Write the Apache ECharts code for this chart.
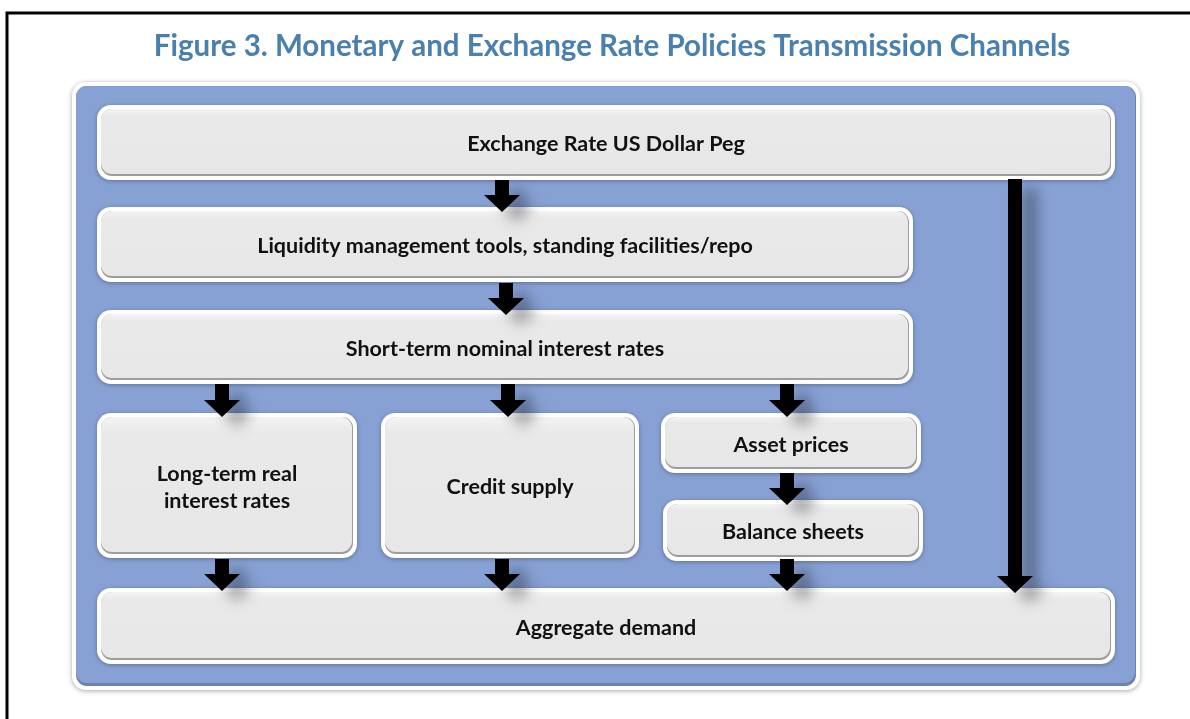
<!DOCTYPE html>
<html>
<head>
<meta charset="utf-8">
<script src="https://cdn.jsdelivr.net/npm/echarts@6/dist/echarts.min.js"></script>
<style>
    html, body { margin: 0; padding: 0; background: #fff; }
    #chart { width: 1190px; height: 719px; }
</style>
</head>
<body>
<div id="chart"></div>
<script>
    // boxes of the diagram: [x1, y1, x2, y2] in page pixels + label
    var boxes = [
        { pos: [97, 105, 1115, 180], label: 'Exchange Rate US Dollar Peg' },
        { pos: [97, 207, 913, 282], label: 'Liquidity management tools, standing facilities/repo' },
        { pos: [97, 310, 913, 384], label: 'Short-term nominal interest rates' },
        { pos: [97, 413, 357, 558], label: 'Long-term real\ninterest rates' },
        { pos: [381, 413, 639, 558], label: 'Credit supply' },
        { pos: [661, 413, 921, 473], label: 'Asset prices' },
        { pos: [663, 500, 923, 561], label: 'Balance sheets' },
        { pos: [97, 588, 1115, 664], label: 'Aggregate demand' }
    ];
    // arrows: [center x, top y, tip y]
    var arrows = [
        [502, 180, 212],
        [506, 283, 315],
        [222, 384, 417], [508, 384, 417], [787, 384, 417],
        [787, 473, 505],
        [222, 559, 591], [502, 559, 591], [787, 559, 591],
        [1015, 179, 593]
    ];
    var panel = [[72, 82, 1140, 690]];
    var frame = [[7, 13, 1190, 719]];

    var myChart = echarts.init(document.getElementById('chart'));
    var font = 'Lato, "Open Sans", sans-serif';

    function rectOf(api) {
        var p1 = api.coord([api.value(0), api.value(1)]);
        var p2 = api.coord([api.value(2), api.value(3)]);
        return { x: p1[0], y: p1[1], w: p2[0] - p1[0], h: p2[1] - p1[1] };
    }

    myChart.setOption({
        animation: false,
        title: {
            text: 'Figure 3. Monetary and Exchange Rate Policies Transmission Channels',
            left: 607,
            top: 26,
            textAlign: 'center',
            textStyle: { color: '#4a80b0', fontSize: 29.5, fontWeight: 'bold', fontFamily: font }
        },
        grid: { left: 0, right: 0, top: 0, bottom: 0 },
        xAxis: { type: 'value', min: 0, max: 1190, show: false },
        yAxis: { type: 'value', min: 0, max: 719, inverse: true, show: false },
        series: [
            {
                // black frame (top and left only)
                type: 'custom',
                clip: false,
                data: frame,
                renderItem: function (params, api) {
                    var r = rectOf(api);
                    return {
                        type: 'polyline',
                        shape: { points: [[r.x + r.w, r.y], [r.x, r.y], [r.x, r.y + r.h]] },
                        style: { stroke: '#000', lineWidth: 3, fill: null }
                    };
                }
            },
            {
                // blue background panel
                type: 'custom',
                clip: false,
                data: panel,
                renderItem: function (params, api) {
                    var r = rectOf(api);
                    return {
                        type: 'group',
                        children: [
                            {
                                type: 'rect',
                                shape: { x: r.x, y: r.y, width: r.w, height: r.h, r: 14 },
                                style: { fill: '#fff', shadowBlur: 5, shadowColor: 'rgba(0,0,0,0.35)', shadowOffsetY: 1 }
                            },
                            {
                                type: 'rect',
                                shape: { x: r.x + 4, y: r.y + 4, width: r.w - 8, height: r.h - 8, r: 11 },
                                style: { fill: '#6a82b3' }
                            },
                            {
                                type: 'rect',
                                shape: { x: r.x + 4, y: r.y + 4, width: r.w - 9, height: r.h - 11, r: 11 },
                                style: { fill: '#87a1d4' }
                            }
                        ]
                    };
                }
            },
            {
                // grey boxes with labels
                type: 'custom',
                clip: false,
                data: boxes.map(function (b) { return b.pos; }),
                renderItem: function (params, api) {
                    var r = rectOf(api);
                    var label = boxes[params.dataIndex].label;
                    return {
                        type: 'group',
                        children: [
                            {
                                type: 'rect',
                                shape: { x: r.x, y: r.y, width: r.w, height: r.h, r: 14 },
                                style: { fill: '#fff', shadowBlur: 4, shadowColor: 'rgba(0,0,0,0.3)', shadowOffsetY: 1 }
                            },
                            {
                                type: 'rect',
                                shape: { x: r.x + 4, y: r.y + 4, width: r.w - 8, height: r.h - 8, r: 11 },
                                style: { fill: '#9d9d9d' }
                            },
                            {
                                type: 'rect',
                                shape: { x: r.x + 4, y: r.y + 4, width: r.w - 9, height: r.h - 10, r: 11 },
                                style: {
                                    fill: new echarts.graphic.LinearGradient(0, 0, 0, 1, [
                                        { offset: 0, color: '#f4f4f4' },
                                        { offset: 0.12, color: '#e9e9e9' },
                                        { offset: 1, color: '#e7e7e7' }
                                    ])
                                }
                            },
                            {
                                type: 'text',
                                x: r.x + r.w / 2,
                                y: r.y + r.h / 2 + 2,
                                style: {
                                    text: label,
                                    align: 'center',
                                    verticalAlign: 'middle',
                                    fill: '#111',
                                    font: 'bold 21.5px ' + font,
                                    lineHeight: 27
                                }
                            }
                        ]
                    };
                }
            },
            {
                // black block arrows
                type: 'custom',
                clip: false,
                data: arrows,
                renderItem: function (params, api) {
                    var top = api.coord([api.value(0), api.value(1)]);
                    var tip = api.coord([api.value(0), api.value(2)]);
                    var cx = top[0], s = 7, hw = 18, hl = 17;
                    var hy = tip[1] - hl;
                    return {
                        type: 'polygon',
                        shape: {
                            points: [
                                [cx - s, top[1]], [cx + s, top[1]], [cx + s, hy], [cx + hw, hy],
                                [cx, tip[1]], [cx - hw, hy], [cx - s, hy]
                            ]
                        },
                        style: {
                            fill: '#000',
                            shadowBlur: 14,
                            shadowColor: 'rgba(0,0,0,0.35)',
                            shadowOffsetX: 15,
                            shadowOffsetY: 10
                        }
                    };
                }
            }
        ]
    });
</script>
</body>
</html>
